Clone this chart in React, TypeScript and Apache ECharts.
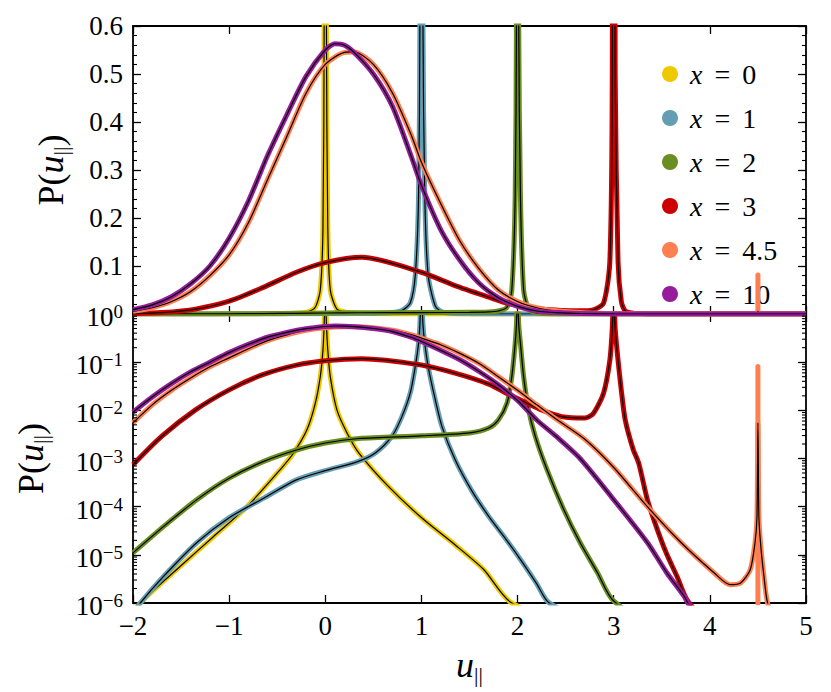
import React, { useEffect, useRef } from 'react';
import * as echarts from 'echarts';

// ---- data (u_parallel, P) ----
const uX0 = [-2.0, -1.924, -1.508, -1.162, -0.815, -0.468, -0.33, -0.19, -0.104, -0.052, -0.024, -0.012, 0, 0.012, 0.026, 0.052, 0.121, 0.226, 0.35, 0.659, 1.005, 1.352, 1.65, 1.94, 5.0];
const pX0 = [5e-7, 1e-6, 5.8e-6, 2.4e-5, 1.0e-4, 5.9e-4, 1.3e-3, 4.0e-3, 0.014, 0.05, 0.18, 0.6, 3, 0.6, 0.18, 0.05, 0.0102, 3.4e-3, 1.3e-3, 2.6e-4, 5.8e-5, 1.6e-5, 4.9e-6, 1e-6, 1e-9];

const uX1 = [-2.0, -1.924, -1.68, -1.335, -1.0, -0.64, -0.3, 0, 0.33, 0.52, 0.694, 0.797, 0.884, 0.936, 0.97, 0.984, 1.0, 1.016, 1.035, 1.07, 1.144, 1.214, 1.352, 1.526, 1.7, 1.872, 2.05, 2.2, 2.33, 5.0];
const pX1 = [6e-7, 1e-6, 3.6e-6, 1.8e-5, 5.9e-5, 1.5e-4, 3.6e-4, 5.6e-4, 8.5e-4, 1.3e-3, 2.9e-3, 7.4e-3, 0.023, 0.081, 0.245, 0.6, 3, 0.6, 0.245, 0.081, 0.0166, 4.6e-3, 9.3e-4, 2.1e-4, 6.3e-5, 2.2e-5, 7e-6, 2.5e-6, 1e-6, 1e-9];

const uX2 = [-2.0, -1.68, -1.335, -1.0, -0.64, -0.3, 0, 0.35, 1.0, 1.5, 1.7, 1.8, 1.89, 1.94, 1.975, 1.988, 2.0, 2.012, 2.03, 2.063, 2.115, 2.184, 2.306, 2.48, 2.65, 2.83, 3.0, 5.0];
const pX2 = [1.1e-5, 3.9e-5, 1.4e-4, 3.9e-4, 8.7e-4, 1.5e-3, 2.1e-3, 2.6e-3, 2.95e-3, 3.4e-3, 4.3e-3, 6.3e-3, 0.014, 0.05, 0.245, 0.6, 3, 0.6, 0.245, 0.05, 0.0102, 2.9e-3, 5.9e-4, 8.7e-5, 1.8e-5, 4.3e-6, 1.1e-6, 1e-9];

const uX3 = [-2.0, -1.7, -1.35, -1.0, -0.65, -0.3, 0.0, 0.38, 1.0, 1.35, 1.7, 1.9, 2.25, 2.46, 2.7, 2.79, 2.895, 2.96, 2.985, 3.0, 3.015, 3.045, 3.08, 3.12, 3.2, 3.26, 3.35, 3.45, 3.55, 3.66, 3.77, 5.0];
const pX3 = [7.4e-4, 2.9e-3, 0.0102, 0.0266, 0.055, 0.087, 0.107, 0.118, 0.087, 0.059, 0.035, 0.022, 0.0102, 0.0074, 0.0069, 0.0087, 0.023, 0.11, 0.5, 3, 0.5, 0.11, 0.025, 6.3e-3, 1.6e-3, 8e-4, 1.4e-4, 3.5e-5, 1.05e-5, 3.5e-6, 1.1e-6, 1e-9];

const uX45 = [-2.0, -1.8, -1.6, -1.4, -1.2, -1.0, -0.8, -0.6, -0.4, -0.2, 0.0, 0.2, 0.3, 0.5, 0.7, 0.9, 1.0, 1.2, 1.4, 1.6, 1.8, 2.0, 2.2, 2.4, 2.7, 3.0, 3.35, 3.7, 4.04, 4.21, 4.32, 4.42, 4.47, 4.49, 4.5, 4.51, 4.53, 4.56, 4.6, 5.0];
const pX45 = [0.0055, 0.013, 0.026, 0.047, 0.08, 0.123, 0.19, 0.28, 0.37, 0.46, 0.52, 0.545, 0.546, 0.52, 0.46, 0.37, 0.316, 0.23, 0.152, 0.094, 0.05, 0.026, 0.013, 0.0066, 0.0025, 6.5e-4, 1.0e-4, 1.8e-5, 4.3e-6, 2.4e-6, 2.6e-6, 4.9e-6, 1.8e-5, 6e-5, 5.5e-3, 6e-5, 1.5e-5, 4e-6, 1e-6, 1e-9];
// delta-like peak of the x = 4.5 curve
const deltaU45 = 4.5;
const deltaP45 = 0.081;

const uX10 = [-2.0, -1.8, -1.6, -1.4, -1.2, -1.0, -0.8, -0.6, -0.4, -0.2, 0.0, 0.1, 0.2, 0.3, 0.5, 0.7, 0.9, 1.0, 1.2, 1.4, 1.6, 1.8, 2.0, 2.2, 2.4, 2.65, 3.0, 3.35, 3.55, 3.73, 3.8, 5.0];
const pX10 = [0.0092, 0.019, 0.036, 0.063, 0.1, 0.158, 0.235, 0.33, 0.415, 0.495, 0.55, 0.563, 0.56, 0.545, 0.5, 0.432, 0.325, 0.268, 0.176, 0.112, 0.064, 0.034, 0.016, 0.0063, 0.0029, 1.0e-3, 1.4e-4, 1.8e-5, 4.3e-6, 1.4e-6, 8e-7, 1e-9];

const seriesNames = ['x = 0', 'x = 1', 'x = 2', 'x = 3', 'x = 4.5', 'x = 10'];
const seriesColors = ['#EEC900', '#659DB3', '#6B8E23', '#CC0000', '#FF7F50', '#961C9C'];
const seriesU = [uX0, uX1, uX2, uX3, uX45, uX10];
const seriesP = [pX0, pX1, pX2, pX3, pX45, pX10];

const xMin = -2;
const xMax = 5;
const linMax = 0.6;
const logMin = 1e-6;
const logMax = 1;
const logDecades = [-6, -5, -4, -3, -2, -1];
const logMultipliers = [2, 3, 4, 5, 6, 7, 8, 9];

const FONT = 'Liberation Serif';

function buildOption() {
  const tickStyle = { color: '#000', width: 1.3 };
  const axisLine = { show: true, onZero: false, lineStyle: { color: '#000', width: 1.8 } };
  const axisTick = { show: true, inside: true, length: 8, lineStyle: tickStyle };
  const minorTick = { show: true, splitNumber: 5, length: 4, lineStyle: { color: '#000', width: 1.1 } };
  const minus = (v: number) => (v < 0 ? '\u2212' + Math.abs(v) : String(v));

  const xBase = (gridIndex: number, position: string, showLabel: boolean) => ({
    type: 'value',
    gridIndex,
    position,
    min: xMin,
    max: xMax,
    interval: 1,
    axisLine,
    axisTick,
    splitLine: { show: false },
    axisLabel: {
      show: showLabel,
      margin: 9,
      color: '#000',
      fontFamily: FONT,
      fontSize: 27,
      formatter: (v: number) => minus(v),
    },
  });

  const yNameRich = {
    r: { fontFamily: FONT, fontSize: 36, lineHeight: 40, color: '#000' },
    i: { fontFamily: FONT, fontSize: 36, fontStyle: 'italic', lineHeight: 40, color: '#000' },
    s: { fontFamily: FONT, fontSize: 22, lineHeight: 22, verticalAlign: 'bottom', color: '#000' },
  };
  const yName = '{r|P(}{i|u}{s|||}{r|)}';

  const logLabelRich = {
    b: { fontFamily: FONT, fontSize: 27, lineHeight: 30, color: '#000' },
    s: { fontFamily: FONT, fontSize: 19, lineHeight: 18, verticalAlign: 'top', color: '#000' },
  };

  const yAxis: any[] = [
    {
      type: 'value', gridIndex: 0, position: 'left', min: 0, max: linMax, interval: 0.1,
      axisLine, axisTick, minorTick, splitLine: { show: false },
      axisLabel: {
        margin: 10, color: '#000', fontFamily: FONT, fontSize: 27, padding: [5, 0, 0, 0],
        formatter: (v: number) => (v < 1e-9 ? '' : v.toFixed(1)),
      },
      name: yName, nameLocation: 'middle', nameRotate: 90, nameGap: 62,
      nameTextStyle: { rich: yNameRich },
    },
    {
      type: 'value', gridIndex: 0, position: 'right', min: 0, max: linMax, interval: 0.1,
      axisLine, axisTick, minorTick, splitLine: { show: false }, axisLabel: { show: false },
    },
    {
      type: 'log', logBase: 10, gridIndex: 1, position: 'left', min: logMin, max: logMax, interval: 1,
      axisLine, axisTick, splitLine: { show: false },
      axisLabel: {
        margin: 10, color: '#000', fontFamily: FONT, fontSize: 27, padding: [6, 0, 0, 0],
        formatter: (v: number) => {
          const e = Math.round(Math.log10(v));
          return '{b|10}{s|' + (e === 0 ? '0' : '\u2212' + Math.abs(e)) + '}';
        },
        rich: logLabelRich,
      },
      name: yName, nameLocation: 'middle', nameRotate: 90, nameGap: 82,
      nameTextStyle: { rich: yNameRich },
    },
    {
      type: 'log', logBase: 10, gridIndex: 1, position: 'right', min: logMin, max: logMax, interval: 1,
      axisLine, axisTick, splitLine: { show: false }, axisLabel: { show: false },
    },
  ];

  const xAxis: any[] = [
    xBase(0, 'bottom', false),
    xBase(0, 'top', false),
    {
      ...xBase(1, 'bottom', true),
      name: '{i|u}{s|||}',
      nameLocation: 'middle',
      nameGap: 42,
      nameTextStyle: { rich: yNameRich },
    },
    xBase(1, 'top', false),
  ];

  const series: any[] = [];
  for (let g = 0; g < 2; g++) {
    const xi = g * 2;
    const yi = g * 2;
    const base = g === 0 ? 0 : logMin;
    for (let k = 0; k < seriesNames.length; k++) {
      const data = seriesU[k].map((u, j) => [u, seriesP[k][j]]);
      series.push({
        type: 'line', name: seriesNames[k], xAxisIndex: xi, yAxisIndex: yi,
        data, showSymbol: false, symbol: 'none', color: seriesColors[k],
        smooth: 0.25,
        lineStyle: { color: seriesColors[k], width: 5, join: 'round' },
        itemStyle: { color: seriesColors[k] },
        silent: true, z: 2 + k * 2, clip: true,
      });
      if (k === 4) {
        series.push({
          type: 'line', name: 'delta45', xAxisIndex: xi, yAxisIndex: yi,
          data: [[deltaU45, base], [deltaU45, deltaP45]], showSymbol: false, symbol: 'none',
          lineStyle: { color: seriesColors[k], width: 5, cap: 'round' },
          silent: true, z: 2 + k * 2, clip: true,
        });
      }
      series.push({
        type: 'line', name: 'hist' + k, xAxisIndex: xi, yAxisIndex: yi,
        data, showSymbol: false, symbol: 'none',
        smooth: 0.25,
        lineStyle: { color: '#000', width: 1.2 },
        silent: true, z: 3 + k * 2, clip: true,
      });
    }
  }

  const minorVals: number[][] = [];
  logDecades.forEach((d) => logMultipliers.forEach((m) => minorVals.push([xMin, m * Math.pow(10, d)])));
  series.push({
    type: 'custom', name: 'logMinor', xAxisIndex: 2, yAxisIndex: 2, silent: true, z: 20,
    data: minorVals,
    renderItem: (_p: any, api: any) => {
      const v = api.value(1);
      const l = api.coord([xMin, v]);
      const r = api.coord([xMax, v]);
      return {
        type: 'group',
        children: [
          { type: 'line', shape: { x1: l[0], y1: l[1], x2: l[0] + 4, y2: l[1] }, style: { stroke: '#000', lineWidth: 1.1 } },
          { type: 'line', shape: { x1: r[0] - 4, y1: r[1], x2: r[0], y2: r[1] }, style: { stroke: '#000', lineWidth: 1.1 } },
        ],
      };
    },
  });

  return {
    animation: false,
    backgroundColor: '#fff',
    grid: [
      { left: 133, top: 26, width: 673, height: 288 },
      { left: 133, top: 314, width: 673, height: 289 },
    ],
    xAxis,
    yAxis,
    legend: {
      data: seriesNames,
      orient: 'vertical',
      left: 657,
      top: 55,
      icon: 'circle',
      itemWidth: 30,
      itemHeight: 16,
      itemGap: 16,
      selectedMode: false,
      itemStyle: { borderWidth: 0 },
      formatter: (name: string) => '{i|x}{e|=}{n|' + name.split('= ')[1] + '}',
      textStyle: {
        fontFamily: FONT,
        rich: {
          i: { fontFamily: FONT, fontStyle: 'italic', fontSize: 28, lineHeight: 20, color: '#000' },
          e: { fontFamily: FONT, fontSize: 28, lineHeight: 20, padding: [0, 12, 0, 12], color: '#000' },
          n: { fontFamily: FONT, fontSize: 28, lineHeight: 20, color: '#000' },
        },
      },
    },
    series,
  };
}

export default function App() {
  const ref = useRef<HTMLDivElement>(null);
  useEffect(() => {
    const chart = echarts.init(ref.current as HTMLDivElement, null, { renderer: 'svg' });
    chart.setOption(buildOption() as any);
    return () => chart.dispose();
  }, []);
  return (
    <div
      ref={ref}
      style={{ position: 'absolute', left: 0, top: 0, width: '831px', height: '692px', background: '#fff' }}
    />
  );
}
